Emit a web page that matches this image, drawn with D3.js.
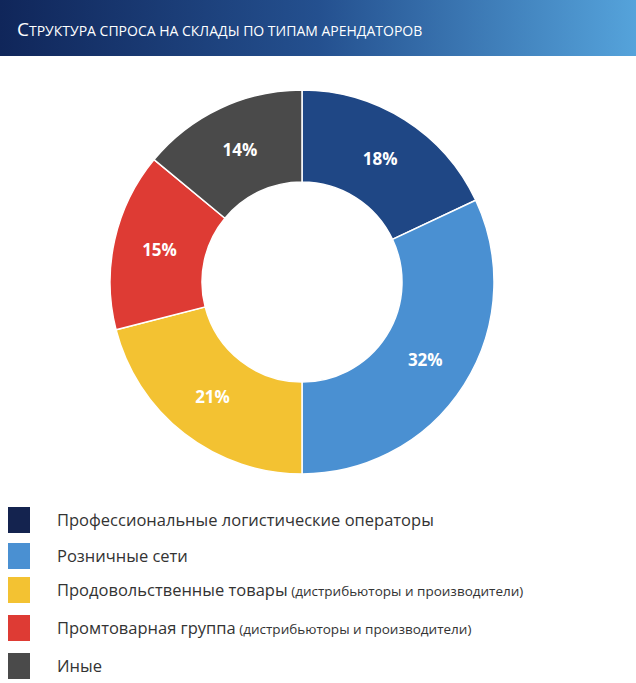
<!DOCTYPE html><html><head><meta charset="utf-8"><script src="https://cdn.jsdelivr.net/npm/d3@7"></script>
<style>body{margin:0;background:#fff}svg{display:block}</style></head><body><script>
const categories=["Профессиональные логистические операторы","Розничные сети","Продовольственные товары","Промтоварная группа","Иные"];
const notes=["","","(дистрибьюторы и производители)","(дистрибьюторы и производители)",""];
const values=[18,32,21,15,14];
const sliceColors=["#1f4785","#4a90d2","#f3c232","#de3b34","#4a4a4a"];
const legendColors=["#14234f","#4a90d2","#f3c232","#de3b34","#4a4a4a"];
const title="Структура спроса на склады по типам арендаторов";
const W=636,H=683;
const svg=d3.select("body").append("svg").attr("width",W).attr("height",H);
const g0=svg.append("defs").append("linearGradient").attr("id","hg");
g0.append("stop").attr("offset","0").attr("stop-color","#10265a");
g0.append("stop").attr("offset","0.5").attr("stop-color","#24508f");
g0.append("stop").attr("offset","1").attr("stop-color","#55a3db");
svg.append("rect").attr("width",W).attr("height",56).attr("fill","url(#hg)");
const t=svg.append("text").attr("x",17).attr("y",36).attr("fill","#fff").attr("font-family","Open Sans, sans-serif");
t.append("tspan").attr("font-size",19).text(title[0]);
t.append("tspan").attr("font-size",14).text(title.slice(1).toUpperCase());
const pie=d3.pie().sort(null).value(d=>d)(values);
const arc=d3.arc().innerRadius(100).outerRadius(192);
const lab=d3.arc().innerRadius(146).outerRadius(146);
const g=svg.append("g").attr("transform","translate(302,282)");
g.selectAll("path").data(pie).join("path").attr("d",arc).attr("fill",(d,i)=>sliceColors[i]).attr("stroke","#fff").attr("stroke-width",1.5);
g.selectAll("text").data(pie).join("text").attr("transform",d=>`translate(${lab.centroid(d)})`)
 .attr("text-anchor","middle").attr("dy","0.35em").attr("fill","#fff").attr("font-weight","bold")
 .attr("font-family","Open Sans, sans-serif").attr("font-size",17).text(d=>d.data+"%");
const ys=[520,556,590,628,666];
const lg=svg.append("g");
categories.forEach((c,i)=>{
 lg.append("rect").attr("x",8).attr("y",ys[i]-13).attr("width",22).attr("height",26).attr("fill",legendColors[i]);
 const tx=lg.append("text").attr("x",57).attr("y",ys[i]+6).attr("fill","#333").attr("font-family","Open Sans, sans-serif");
 tx.append("tspan").attr("font-size",16.5).text(c);
 if(notes[i]) tx.append("tspan").attr("font-size",13.5).text(" "+notes[i]);
});
</script></body></html>
